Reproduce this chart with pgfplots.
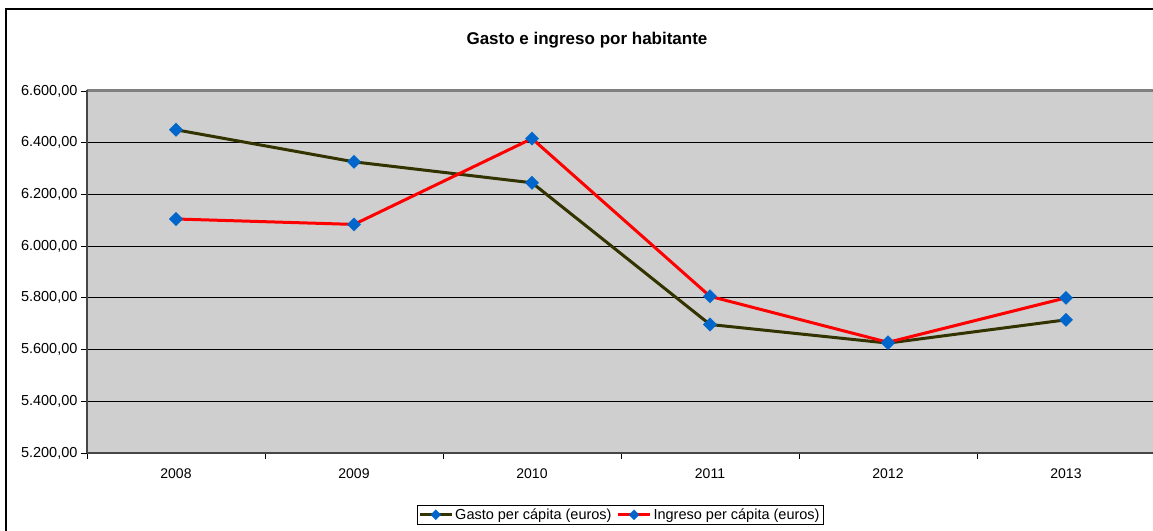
\documentclass[border=0pt]{standalone}
\usepackage{fontspec}
\setmainfont{Liberation Sans}
\usepackage{pgfplots}
\pgfplotsset{compat=1.18}
\definecolor{gasto}{RGB}{51,51,0}
\definecolor{ingreso}{RGB}{255,0,0}
\definecolor{mk}{RGB}{0,102,204}
\definecolor{plotbg}{RGB}{207,207,207}
\definecolor{frameg}{RGB}{128,128,128}
\definecolor{spine}{RGB}{70,70,70}
\begin{document}
\begin{tikzpicture}[x=1pt,y=1pt]
\useasboundingbox (0,0) rectangle (1153,530);
\clip (0,0) rectangle (1153,530);
\fill[white] (0,0) rectangle (1153,530);
\draw[line width=1.5pt] (6,-20) rectangle (1180,521);
\node[font=\bfseries\fontsize{17}{20}\selectfont] at (587,490) {Gasto e ingreso por habitante};
\begin{axis}[
  at={(87pt,77pt)}, anchor=south west, scale only axis,
  width=1068pt, height=362pt,
  xmin=-0.5, xmax=5.5, ymin=5200, ymax=6600,
  xtick={0,...,5}, xticklabels={2008,2009,2010,2011,2012,2013},
  minor xtick={-0.5,0.5,...,5.5},
  ytick={5200,5400,...,6600},
  xtick pos=bottom, ytick pos=left,
  scaled y ticks=false,
  yticklabel style={/pgf/number format/fixed, /pgf/number format/fixed zerofill,
    /pgf/number format/precision=2, /pgf/number format/use comma,
    /pgf/number format/1000 sep={.}},
  /pgf/number format/assume math mode=true,
  tick label style={font=\fontsize{14.5}{16}\selectfont},
  xticklabel style={font=\fontsize{14}{16}\selectfont, yshift=-6pt},
  tick align=outside, major tick length=6pt, minor tick length=6pt,
  tick style={black, line width=0.8pt},
  major x tick style={draw=none},
  ymajorgrids, major grid style={black, line width=0.8pt},
  axis line style={draw=none},
  axis background/.style={fill=plotbg},
  clip=false,
  legend style={at={(0.499,-0.1436)}, anchor=north, legend columns=2,
    draw=black, fill=white, font=\fontsize{14.5}{16}\selectfont,
    inner sep=1.5pt, /tikz/every even column/.append style={column sep=3pt}},
  legend image code/.code={\draw[line width=3pt, mark size=3.6pt, mark repeat=2, mark phase=2]
    plot coordinates {(0pt,0pt) (16pt,0pt) (32pt,0pt)};},
]
\addplot[gasto, line width=3pt, mark=square*, mark size=4.8pt,
  mark options={fill=mk, draw=mk, rotate=45, line width=0.1pt}]
  coordinates {(0,6450)(1,6326)(2,6245)(3,5697)(4,5625)(5,5715)};
\addlegendentry{Gasto per cápita (euros)}
\addplot[ingreso, line width=3pt, mark=square*, mark size=4.8pt,
  mark options={fill=mk, draw=mk, rotate=45, line width=0.1pt}]
  coordinates {(0,6105)(1,6084)(2,6416)(3,5806)(4,5628)(5,5800)};
\addlegendentry{Ingreso per cápita (euros)}
\draw[frameg, line width=3pt] (rel axis cs:0,1) -- (rel axis cs:1,1);
\draw[spine, line width=2.5pt] (rel axis cs:0,1.004) -- (rel axis cs:0,0);
\draw[spine, line width=1.5pt] (rel axis cs:0,0) -- (rel axis cs:1,0);
\end{axis}
\end{tikzpicture}
\end{document}
